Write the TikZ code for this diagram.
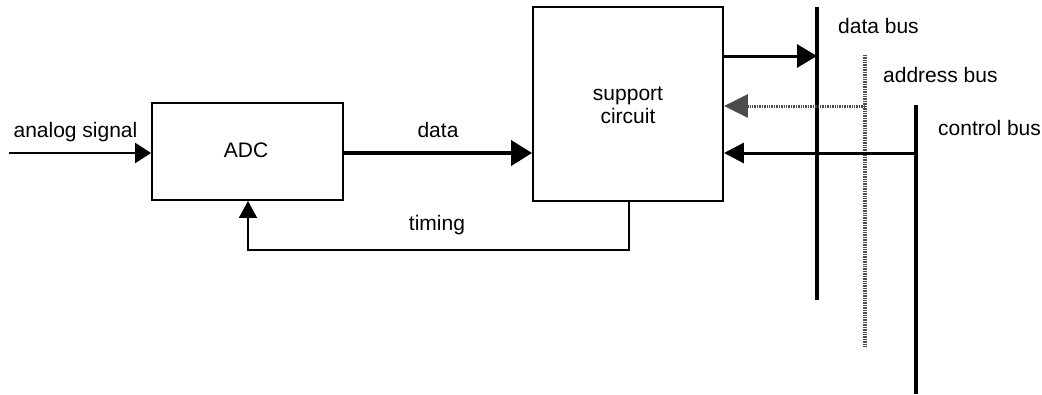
\documentclass[tikz,border=0pt]{standalone}
\usepackage{fontspec}
\setmainfont{Liberation Sans}
\usetikzlibrary{arrows.meta}
\tikzset{
  box/.style={draw, line width=1.9pt, inner sep=0pt},
  lbl/.style={font=\fontsize{21}{23}\selectfont, inner sep=0pt, anchor=base},
  lblw/.style={lbl, anchor=base west},
  conn/.style={line width=2.6pt, -{Triangle[length=16pt,width=20pt]}},
  thick conn/.style={line width=4pt, -{Triangle[length=21pt,width=25pt]}},
  bus/.style={line width=3.8pt},
  gbus/.style={line width=3.2pt, draw=black!70, dash pattern=on 1pt off 0.7pt},
}
\begin{document}
\begin{tikzpicture}[x=1pt,y=-1pt]
\useasboundingbox (0,0) rectangle (1042,394);
% boxes
\node[box, minimum width=191pt, minimum height=97pt] (adc) at (247.5,151.5) {};
\node[lbl] (adclbl) at (246,157) {ADC};
\node[box, minimum width=190pt, minimum height=194pt] (sc) at (628,104) {};
\node[lbl] (scl1) at (628,100) {support};
\node[lbl] (scl2) at (628,123) {circuit};
% bus coordinates
\coordinate (db1) at (817,7);
\coordinate (db2) at (817,300);
\coordinate (ab1) at (865,55);
\coordinate (ab2) at (865,347);
\coordinate (cb1) at (916,105);
\coordinate (cb2) at (916,394);
\draw[bus] (db1) -- (db2);
\draw[gbus] (ab1) -- (ab2);
\draw[bus] (cb1) -- (cb2);
% bus labels
\node[lblw] (dbl) at (838,33) {data bus};
\node[lblw] (abl) at (883,82) {address bus};
\node[lblw] (cbl) at (938,135) {control bus};
% analog in
\coordinate (ain) at (9,153);
\draw[conn] (ain) -- (adc.west |- ain);
\node[lbl] (al) at (75.5,137) {analog signal};
% data
\draw[thick conn] (adc.east |- 0,153) -- (sc.west |- 0,153);
\node[lbl] (dl) at (438,137) {data};
% timing
\coordinate (tx) at (629,250);
\coordinate (ty) at (248,250);
\draw[line width=1.9pt, -{Triangle[length=17pt,width=18pt]}] (sc.south -| tx) -- (tx) -- (ty) -- (adc.south -| ty);
\node[lbl] (tl) at (437,230) {timing};
% bus connections
\draw[line width=3pt, -{Triangle[length=20pt,width=23pt]}] (sc.east |- 0,56) -- (db1 |- 0,56);
\draw[line width=3pt, draw=black!70, dash pattern=on 1pt off 0.7pt, -{Triangle[length=24pt,width=23pt,color=black!70,fill=black!70]}] (ab1 |- 0,106) -- (sc.east |- 0,106);
\draw[line width=3pt, -{Triangle[length=20pt,width=20pt]}] (cb1 |- 0,153) -- (sc.east |- 0,153);
\end{tikzpicture}
\end{document}
